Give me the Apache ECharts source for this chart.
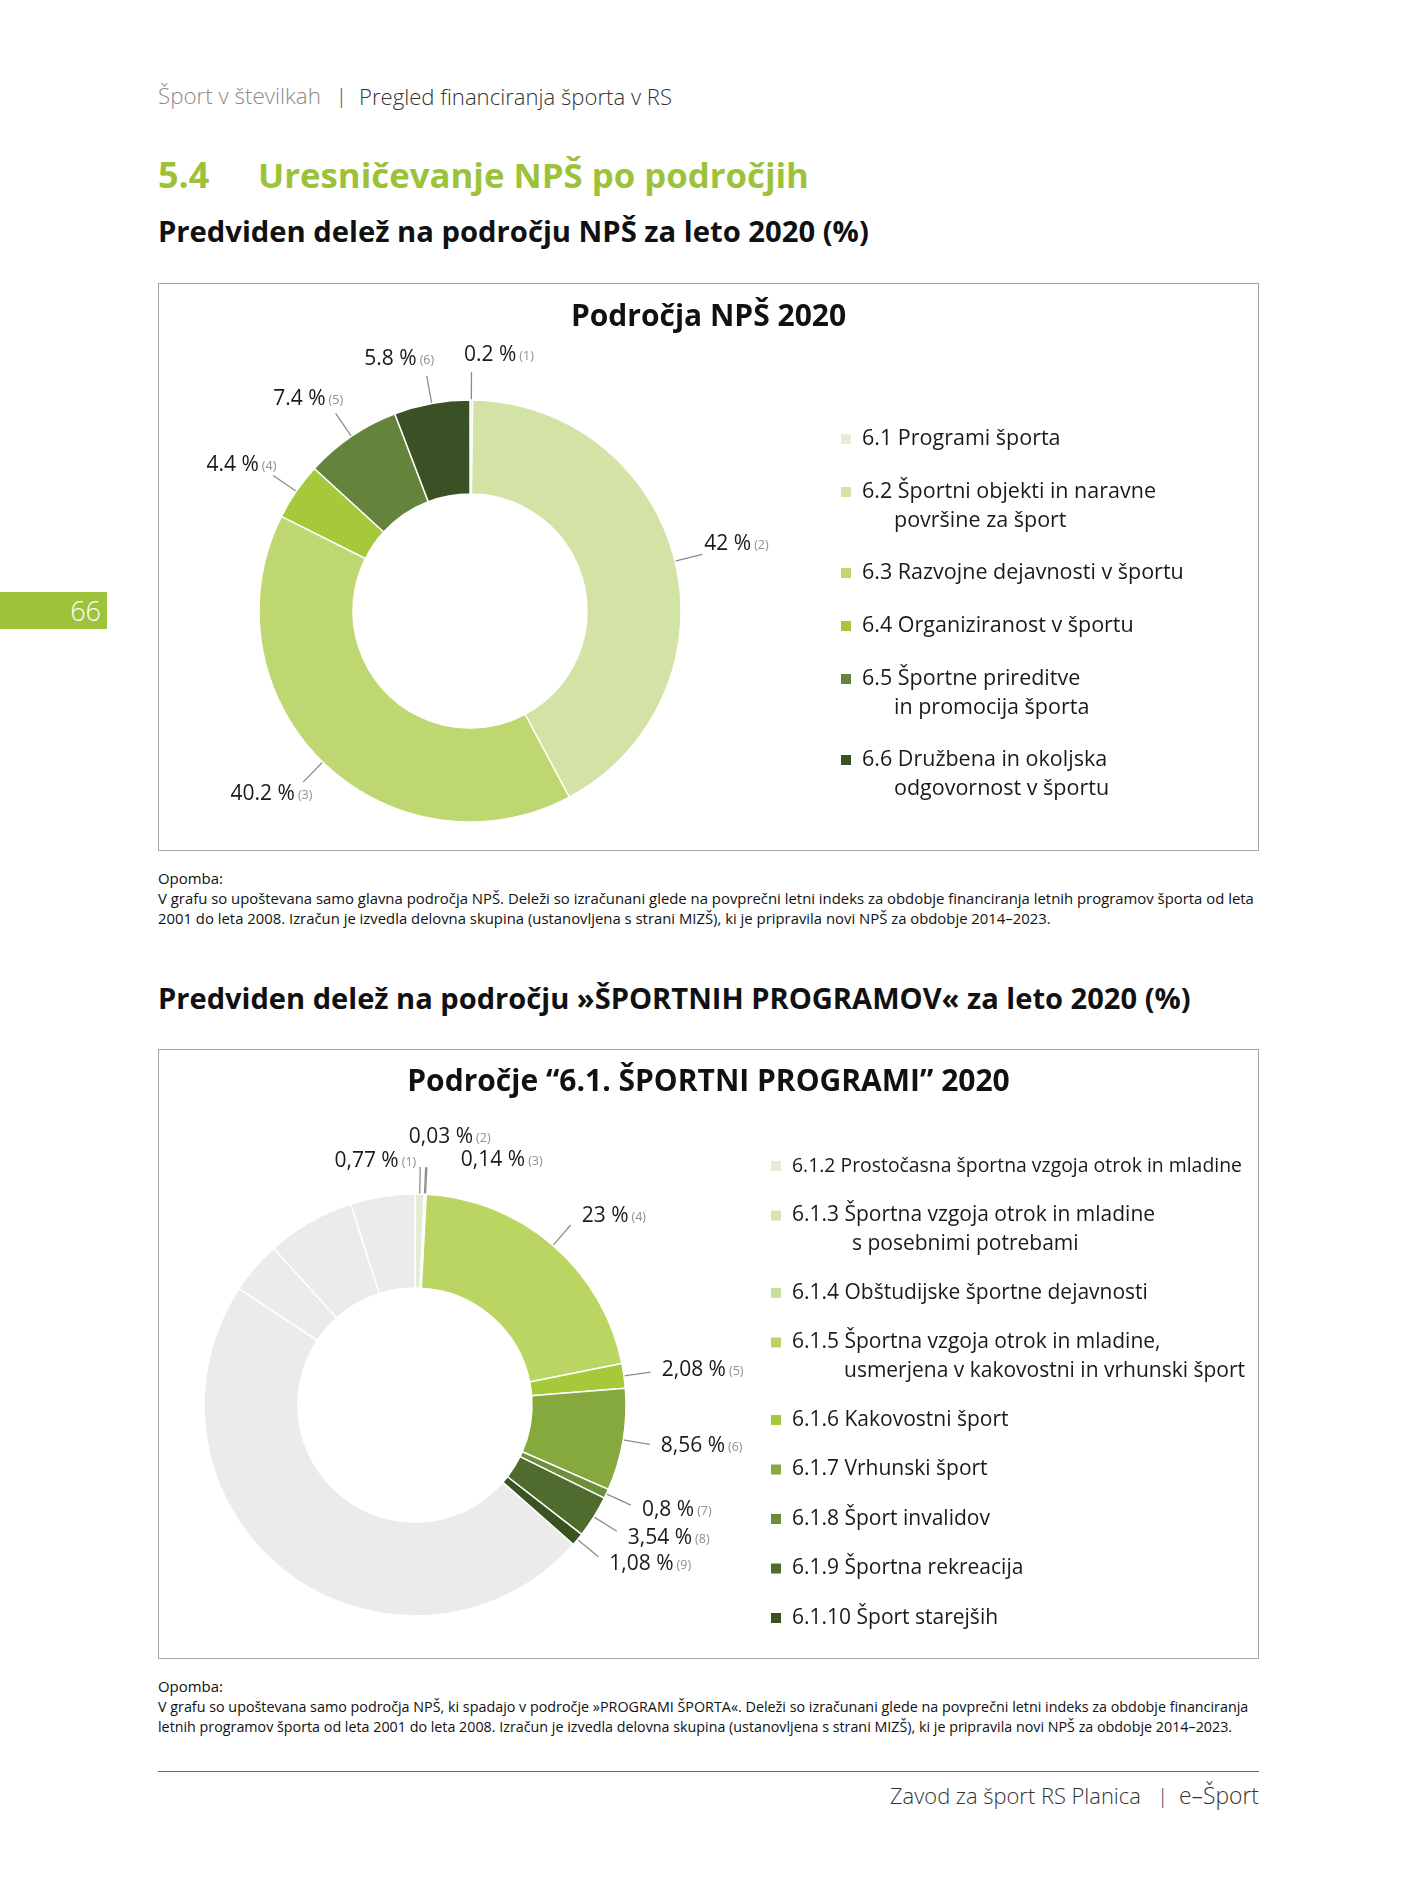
<!DOCTYPE html>
<html lang="sl">
<head>
<meta charset="utf-8">
<title>Uresničevanje NPŠ po področjih</title>
<script src="https://cdn.jsdelivr.net/npm/echarts@6/dist/echarts.min.js"></script>
<style>
html,body{margin:0;padding:0;background:#fff;}
body{width:1418px;height:1890px;position:relative;overflow:hidden;font-family:'Open Sans','Noto Sans',sans-serif;color:#1a1a1a;}
.t{position:absolute;white-space:nowrap;}
.hdr{top:82px;font-size:20px;line-height:28px;font-weight:300;}
.h54{top:153px;font-size:36px;line-height:44px;font-weight:700;color:#9cc23a;}
.h2{left:158px;font-size:27px;line-height:36px;font-weight:700;color:#111;}
.box{position:absolute;left:158px;width:1101px;box-sizing:border-box;border:1px solid #a3a3a3;pointer-events:none;}
.chart{position:absolute;left:158px;width:1101px;}
.fn{left:158px;font-size:15px;line-height:19.5px;color:#111;}
.ftr{top:1781px;font-size:21px;line-height:29px;font-weight:300;color:#333;}
#tab{position:absolute;left:0;top:592px;width:107px;height:37px;background:#9dc33b;}
#tab span{position:absolute;right:6px;top:0;font-size:27px;line-height:37px;color:#fff;font-weight:300;}
#rule{position:absolute;left:158px;top:1771px;width:1101px;height:1px;background:#666;}
</style>
</head>
<body>
<div class="t hdr fit" data-w="163" style="left:158px;color:#8a8a8a">Šport v številkah</div>
<div class="t hdr" style="left:336px;color:#444">|</div>
<div class="t hdr fit" data-w="313" style="left:359px;color:#333">Pregled financiranja športa v RS</div>

<div class="t h54" style="left:158px">5.4</div>
<div class="t h54 fit" data-w="551" style="left:258px">Uresničevanje NPŠ po področjih</div>
<div class="t h2 fit" data-w="711" style="top:213px">Predviden delež na področju NPŠ za leto 2020 (%)</div>

<div id="c1" class="chart" style="top:283px;height:568px"></div>
<div class="box" style="top:283px;height:568px"></div>

<div class="t fn fit" data-w="65" style="top:869px">Opomba:</div>
<div class="t fn fit" data-w="1096" style="top:889px">V grafu so upoštevana samo glavna področja NPŠ. Deleži so izračunani glede na povprečni letni indeks za obdobje financiranja letnih programov športa od leta</div>
<div class="t fn fit" data-w="893" style="top:909px">2001 do leta 2008. Izračun je izvedla delovna skupina (ustanovljena s strani MIZŠ), ki je pripravila novi NPŠ za obdobje 2014–2023.</div>

<div class="t h2 fit" data-w="1033" style="top:980px">Predviden delež na področju »ŠPORTNIH PROGRAMOV« za leto 2020 (%)</div>

<div id="c2" class="chart" style="top:1049px;height:610px"></div>
<div class="box" style="top:1049px;height:610px"></div>

<div class="t fn fit" data-w="65" style="top:1677px">Opomba:</div>
<div class="t fn fit" data-w="1091" style="top:1697px">V grafu so upoštevana samo področja NPŠ, ki spadajo v področje »PROGRAMI ŠPORTA«. Deleži so izračunani glede na povprečni letni indeks za obdobje financiranja</div>
<div class="t fn fit" data-w="1075" style="top:1717px">letnih programov športa od leta 2001 do leta 2008. Izračun je izvedla delovna skupina (ustanovljena s strani MIZŠ), ki je pripravila novi NPŠ za obdobje 2014–2023.</div>

<div id="rule"></div>
<div class="t ftr fit" data-w="251" style="left:890px">Zavod za šport RS Planica</div>
<div class="t ftr" style="left:1157px;color:#444">|</div>
<div class="t ftr fit" data-w="80" style="left:1179px">e–Šport</div>

<div id="tab"><span>66</span></div>

<script>
// ---------------- DATA ----------------
const npsTitle = 'Področja NPŠ 2020';
const npsCategories = [
  '6.1 Programi športa',
  '6.2 Športni objekti in naravne\npovršine za šport',
  '6.3 Razvojne dejavnosti v športu',
  '6.4 Organiziranost v športu',
  '6.5 Športne prireditve\nin promocija športa',
  '6.6 Družbena in okoljska\nodgovornost v športu'
];
const npsValues = [0.2, 42, 40.2, 4.4, 7.4, 5.8];

const programTitle = 'Področje “6.1. ŠPORTNI PROGRAMI” 2020';
const programCategories = [
  '6.1.2 Prostočasna športna vzgoja otrok in mladine',
  '6.1.3 Športna vzgoja otrok in mladine\ns posebnimi potrebami',
  '6.1.4 Obštudijske športne dejavnosti',
  '6.1.5 Športna vzgoja otrok in mladine,\nusmerjena v kakovostni in vrhunski šport',
  '6.1.6 Kakovostni šport',
  '6.1.7 Vrhunski šport',
  '6.1.8 Šport invalidov',
  '6.1.9 Športna rekreacija',
  '6.1.10 Šport starejših'
];
const programValues = [0.77, 0.03, 0.14, 23, 2.08, 8.56, 0.8, 3.54, 1.08];
// remaining (grey, unlabeled) areas of the ring, clockwise after 6.1.10
const otherAreaNames = ['Ostalo A', 'Ostalo B', 'Ostalo C', 'Ostalo D'];
const otherAreaValues = [52.4, 4.4, 7.4, 5.4];

// ---------------- STYLES ----------------
const FONT = "'Open Sans','Noto Sans',sans-serif";
const npsColors = ['#e4eed8', '#d3e3a5', '#bfd771', '#a6c93b', '#63843a', '#3a5125'];
const programColors = ['#e2edd3', '#d6e5b2', '#cbdf9c', '#bad562', '#a6c93a', '#86a93e', '#6b8f3a', '#4f6c2e', '#3a5321'];
const otherColor = '#ebebeb';
const programLegendIndent = [0, 60, 0, 52, 0, 0, 0, 0, 0];
const programLegendFont = [19.4, 21, 21, 21, 21, 21, 21, 21, 21];
// label nudges for the three tiny top slices of the second chart (relative to leader-line end)
const programLabelNudge = [
  {align: 'right', dx: -4, dy: -6},
  {align: 'center', dx: 24, dy: -30},
  {align: 'left', dx: 34, dy: -7}
];

function richLabel(fmt) {
  return {
    show: true, position: 'outside', distanceToLabelLine: 0,
    formatter: p => `{v|${fmt(p.value)} %}{n|(${p.dataIndex + 1})}`,
    rich: {
      v: {fontFamily: FONT, fontSize: 21, color: '#1a1a1a', lineHeight: 22},
      n: {fontFamily: FONT, fontSize: 12.5, color: '#8f8f8f', lineHeight: 22, padding: [3, 0, 0, 3]}
    }
  };
}

function lineEnd(p) {
  const pts = p.labelLinePoints;
  if (!pts || pts.length < 2) return null;
  const a = pts[0], e = pts[pts.length - 1];
  let ux = e[0] - a[0], uy = e[1] - a[1];
  const L = Math.hypot(ux, uy) || 1;
  return {pts, e, ux: ux / L, uy: uy / L};
}

function radialLabelLayout(p) {
  const g = lineEnd(p); if (!g) return {};
  const w = p.labelRect.width;
  const sx = g.ux >= 0 ? 1 : -1, sy = g.uy >= 0 ? 1 : -1;
  return {
    x: g.e[0] + sx * (Math.max(Math.abs(g.ux), 0.7) * w / 2 + 3),
    y: g.e[1] + sy * Math.max(Math.abs(g.uy), 0.6) * 17,
    align: 'center', verticalAlign: 'middle', labelLinePoints: g.pts
  };
}

function sideLabelLayout(p) {
  const g = lineEnd(p); if (!g) return {};
  const n = programLabelNudge[p.dataIndex];
  if (n) return {x: g.e[0] + n.dx, y: g.e[1] + n.dy, align: n.align, verticalAlign: 'middle', labelLinePoints: g.pts};
  const right = g.ux >= 0;
  return {x: g.e[0] + (right ? 11 : -11), y: g.e[1] + g.uy * 12, align: right ? 'left' : 'right', verticalAlign: 'middle', labelLinePoints: g.pts};
}

function legendSet(names, o) {
  const out = [];
  let top = o.firstCenter - o.lh / 2;
  names.forEach((name, i) => {
    const lines = name.split('\n').length;
    const H = lines * o.lh;
    const s = o.icon, y0 = o.lh / 2 - s / 2;
    const fs = o.fontSizes ? o.fontSizes[i] : o.fontSize;
    const ind = o.indent ? o.indent[i] : o.indentAll;
    out.push({
      show: true, orient: 'vertical', left: o.left, top: top, padding: 0, itemGap: 0,
      itemWidth: s, itemHeight: H, selectedMode: false,
      icon: `path://M0,${y0}h${s}v${s}h-${s}Z M0,0h0.01v0.01h-0.01Z M0,${H - 0.01}h0.01v0.01h-0.01Z`,
      data: [name],
      formatter: nm => nm.split('\n').map((t, k) => (k === 0 ? `{f|${t}}` : `{c|${t}}`)).join('\n'),
      textStyle: {
        fontFamily: FONT, fontSize: fs, lineHeight: o.lh, color: '#1a1a1a',
        rich: {
          f: {fontFamily: FONT, fontSize: fs, lineHeight: o.lh, color: '#1a1a1a', padding: [0, 0, 0, 5]},
          c: {fontFamily: FONT, fontSize: fs, lineHeight: o.lh, color: '#1a1a1a', padding: [0, 0, 0, 5 + ind]}
        }
      }
    });
    top += o.pitch + (lines - 1) * o.extra;
  });
  return out;
}

// ---------------- CHART 1 ----------------
const chart1 = echarts.init(document.getElementById('c1'), null, {renderer: 'canvas'});
chart1.setOption({
  animation: false,
  backgroundColor: 'transparent',
  title: {text: npsTitle, left: 'center', top: 16, padding: 0,
    textStyle: {fontFamily: FONT, fontSize: 30, fontWeight: 'bold', color: '#111', lineHeight: 36}},
  legend: legendSet(npsCategories, {left: 681, firstCenter: 155, lh: 28.5, pitch: 53, extra: 28, icon: 12, fontSize: 21.5, indentAll: 32}),
  series: [{
    type: 'pie', center: [312, 328], radius: [117, 211], startAngle: 90, clockwise: true,
    avoidLabelOverlap: false, emphasis: {disabled: true}, silent: true,
    itemStyle: {borderColor: '#fff', borderWidth: 1.5},
    label: richLabel(v => String(v)),
    labelLine: {show: true, length: 28, length2: 0, smooth: false, lineStyle: {color: '#8c8c8c', width: 1.3}},
    labelLayout: radialLabelLayout,
    data: npsValues.map((v, i) => ({name: npsCategories[i], value: v, itemStyle: {color: npsColors[i]}}))
  }]
});

// ---------------- CHART 2 ----------------
const chart2 = echarts.init(document.getElementById('c2'), null, {renderer: 'canvas'});
const programData = programValues.map((v, i) => ({name: programCategories[i], value: v, itemStyle: {color: programColors[i]}}))
  .concat(otherAreaValues.map((v, i) => ({name: otherAreaNames[i], value: v, itemStyle: {color: otherColor},
    label: {show: false}, labelLine: {show: false}})));
chart2.setOption({
  animation: false,
  backgroundColor: 'transparent',
  title: {text: programTitle, left: 'center', top: 15, padding: 0,
    textStyle: {fontFamily: FONT, fontSize: 30, fontWeight: 'bold', color: '#111', lineHeight: 36}},
  legend: legendSet(programCategories, {left: 611, firstCenter: 116, lh: 28.3, pitch: 49.5, extra: 28, icon: 12, fontSizes: programLegendFont, indent: programLegendIndent}),
  series: [{
    type: 'pie', center: [257, 356], radius: [117, 211], startAngle: 90, clockwise: true,
    avoidLabelOverlap: false, emphasis: {disabled: true}, silent: true,
    itemStyle: {borderColor: '#fff', borderWidth: 1.5},
    label: richLabel(v => String(v).replace('.', ',')),
    labelLine: {show: true, length: 27, length2: 0, smooth: false, lineStyle: {color: '#8c8c8c', width: 1.3}},
    labelLayout: sideLabelLayout,
    data: programData
  }]
});

// ---------------- fit page texts to the reference widths ----------------
document.querySelectorAll('.fit').forEach(el => {
  const target = parseFloat(el.dataset.w);
  const fs = parseFloat(getComputedStyle(el).fontSize);
  const w = el.getBoundingClientRect().width;
  if (w > 0) el.style.fontSize = (fs * target / w).toFixed(2) + 'px';
});
</script>
</body>
</html>
